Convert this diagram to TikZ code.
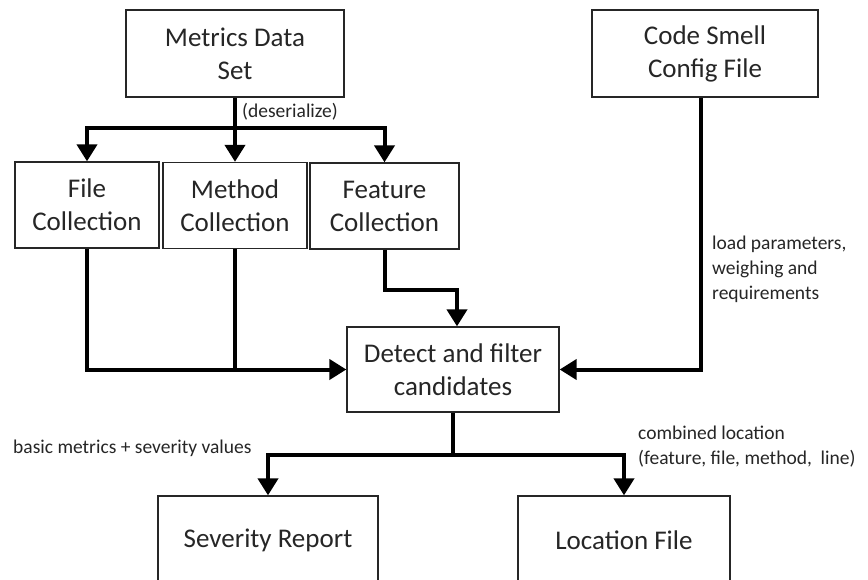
\documentclass[tikz,border=0pt]{standalone}
\usepackage{fontspec}
\setmainfont{Carlito}
\usetikzlibrary{arrows.meta}
\definecolor{txt}{HTML}{262626}
\tikzset{
  box/.style={draw=black!85, line width=1.3pt, rectangle, align=center, inner sep=0pt,
    text=txt, font=\fontsize{27}{33}\selectfont},
  lbl/.style={text=txt, font=\fontsize{19.5}{25}\selectfont, inner sep=0pt, align=left},
  conn/.style={line width=4pt, black},
  arr/.style={conn, -{Triangle[width=20pt,length=17pt]}}
}
\begin{document}
\begin{tikzpicture}[x=1pt,y=-1pt]
\clip (0,0) rectangle (868,579);
\fill[white] (0,0) rectangle (868,579);
% boxes
\node[box, minimum width=218pt, minimum height=87pt] (mds) at (235,53.5) {Metrics Data\\Set};
\node[box, minimum width=226pt, minimum height=87pt] (csc) at (705,53.5) {Code Smell\\Config File};
\node[box, minimum width=144pt, minimum height=86pt] (fc) at (87,205) {File\\Collection};
\node[box, minimum width=144pt, minimum height=86pt] (mc) at (235,205.5) {Method\\Collection};
\node[box, minimum width=149pt, minimum height=86pt] (fec) at (384.5,206) {Feature\\Collection};
\node[box, minimum width=212pt, minimum height=85pt] (det) at (453,369.5) {Detect and filter\\candidates};
\node[box, minimum width=220pt, minimum height=88pt] (sev) at (268,540) {Severity Report};
\node[box, minimum width=212pt, minimum height=88pt] (loc) at (624,540) {Location File};
% junctions
\coordinate (j1) at (235,128);
\coordinate (j2) at (453,455);
% top distribution
\draw[conn] (mds.south) -- (j1);
\draw[arr] (j1) -| (fc.north);
\draw[arr] (j1) -- (mc.north);
\draw[arr] (j1) -| (fec.north);
% into detect
\draw[arr] (fc.south) |- (det.west);
\draw[conn] (mc.south) -- (mc.south |- det.west);
\draw[arr] (fec.south) -- ++(0,40) -| ([xshift=4pt]det.north);
\draw[arr] ([xshift=-4pt]csc.south) |- (det.east);
% outputs
\draw[conn] (det.south) -- (j2);
\draw[arr] (j2) -| (sev.north);
\draw[arr] (j2) -| (loc.north);
% labels
\node[lbl, anchor=west] (ldes) at (242,112) {(deserialize)};
\node[lbl, anchor=north west] (lload) at (712,236) {load parameters,\\weighing and\\requirements};
\node[lbl, anchor=west] (lbasic) at (13,448) {basic metrics + severity values};
\node[lbl, anchor=north west] (lcomb) at (638,426) {combined location\\(feature, file, method,\ \ line)};
\end{tikzpicture}
\end{document}
